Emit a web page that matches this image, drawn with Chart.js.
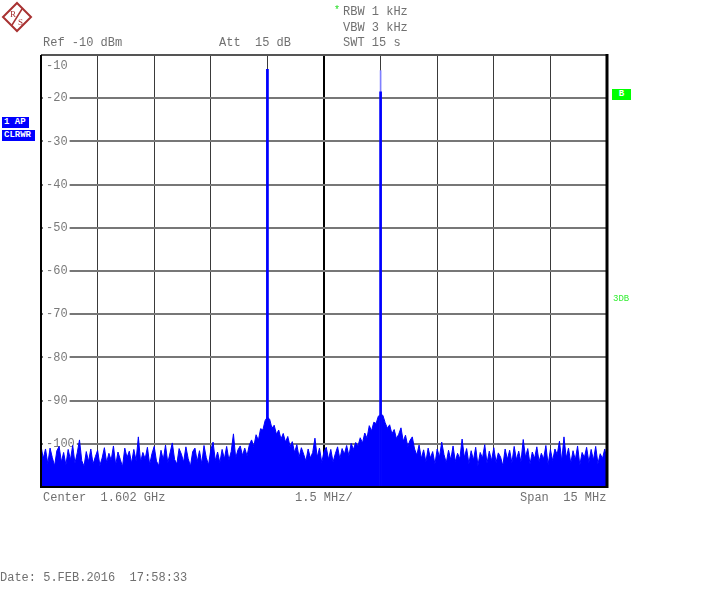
<!DOCTYPE html>
<html>
<head>
<meta charset="utf-8">
<script src="https://cdn.jsdelivr.net/npm/chart.js@4.4.1/dist/chart.umd.min.js"></script>
<style>
  body { margin: 0; background: #fff; }
  #wrap { position: relative; width: 723px; height: 600px; overflow: hidden; font-family: "Liberation Mono", "DejaVu Sans Mono", monospace; }
  #wrap canvas { position: absolute; left: 0; top: 0; }
  .txt { position: absolute; font-size: 12px; line-height: 12px; height: 12px; color: #707070; white-space: pre; }
  .tag { position: absolute; background: #0000ff; color: #fff; font-size: 9px; font-weight: bold; line-height: 11px; height: 11px; padding: 0 2px; white-space: pre; }
</style>
</head>
<body>
<div id="wrap">
  <canvas id="spectrum" width="723" height="600"></canvas>

  <svg style="position:absolute;left:1px;top:1px" width="32" height="32" viewBox="0 0 32 32">
    <polygon points="16,2 30,16 16,30 2,16" fill="none" stroke="#a83232" stroke-width="2"/>
    <line x1="21" y1="8" x2="11" y2="24" stroke="#a83232" stroke-width="1.5"/>
    <text x="9" y="16" font-size="9" font-family="Liberation Serif, serif" fill="#a83232">R</text>
    <text x="17" y="24" font-size="9" font-family="Liberation Serif, serif" fill="#a83232">S</text>
  </svg>

  <div class="txt" style="left:334px;top:5px;color:#22dd22;font-size:10px">*</div>
  <div class="txt" style="left:343px;top:6px">RBW 1 kHz</div>
  <div class="txt" style="left:343px;top:22px">VBW 3 kHz</div>
  <div class="txt" style="left:43px;top:37px">Ref -10 dBm</div>
  <div class="txt" style="left:219px;top:37px">Att  15 dB</div>
  <div class="txt" style="left:343px;top:37px">SWT 15 s</div>

  <div class="tag" style="left:2px;top:117px;width:23px">1 AP</div>
  <div class="tag" style="left:2px;top:130px;width:29px">CLRWR</div>
  <div class="tag" style="left:612px;top:89px;width:15px;background:#00ff00;text-align:center">B</div>
  <div class="txt" style="left:613px;top:293px;font-size:9px;color:#33ee33">3DB</div>

  <div class="txt" style="left:43px;top:492px">Center  1.602 GHz</div>
  <div class="txt" style="left:295px;top:492px">1.5 MHz/</div>
  <div class="txt" style="left:520px;top:492px">Span  15 MHz</div>
  <div class="txt" style="left:0px;top:572px">Date: 5.FEB.2016  17:58:33</div>
</div>

<script>
// sweep: 251 points across 15 MHz span, centre 1.602 GHz
const levelLabels = [-10, -20, -30, -40, -50, -60, -70, -80, -90, -100];

// noise floor / skirts of the trace (dBm)
const levels = [
  -100.5, -103.4, -101.2, -104.6, -101.0, -103.2, -105.1, -101.6, -100.6, -104.2,
  -102.0, -104.9, -101.3, -103.7, -100.4, -104.5, -102.1, -99.1, -103.9, -105.2,
  -101.8, -104.1, -101.2, -104.7, -103.0, -101.5, -105.0, -103.3, -100.9, -104.3,
  -102.2, -103.8, -100.5, -104.9, -101.9, -103.6, -105.3, -101.0, -103.2, -101.7,
  -104.5, -101.3, -103.9, -98.4, -104.2, -102.0, -103.5, -100.8, -104.8, -102.3,
  -100.6, -104.0, -105.1, -101.5, -103.7, -100.3, -104.4, -102.1, -99.8, -103.6,
  -104.7, -101.1, -102.4, -104.2, -100.7, -103.4, -105.2, -101.8, -101.0, -104.1,
  -101.6, -104.6, -100.4, -103.2, -104.9, -101.4, -99.6, -103.9, -101.9, -104.4,
  -101.3, -103.5, -100.6, -103.8, -101.8, -97.7, -103.3, -101.4, -100.5, -102.7,
  -101.0, -102.8, -100.3, -99.1, -100.6, -97.9, -99.2, -96.5, -96.8, -94.6,
  -93.8,
  -94.3, -96.4, -95.7, -97.8, -96.8, -98.9, -97.6, -99.6, -98.3,
  -100.6, -99.5, -102.0, -100.2, -103.1, -100.9, -102.4, -104.0, -101.2, -103.3,
  -102.0, -98.7, -103.1, -101.0, -104.3, -101.8, -100.8, -103.6, -101.3, -104.2,
  -102.3, -100.7, -103.5, -101.1, -102.4, -100.4, -102.8, -99.9, -101.3, -99.7,
  -100.5, -98.6, -99.8, -97.5, -98.7, -95.8, -97.0, -95.0, -95.3, -93.6,
  -93.2,
  -93.4, -95.1, -96.4, -95.6, -97.7, -96.7, -98.8, -97.8, -96.3,
  -99.4, -98.0, -100.6, -99.2, -98.4, -101.2, -102.6, -100.3, -103.4, -101.4,
  -104.2, -101.0, -103.3, -101.8, -104.7, -101.2, -103.1, -99.6, -102.5, -104.4,
  -101.5, -103.7, -100.5, -104.1, -102.2, -103.5, -98.9, -103.2, -101.1, -104.6,
  -101.6, -103.8, -100.8, -105.0, -102.0, -103.3, -100.2, -104.5, -101.7, -103.9,
  -100.9, -104.3, -102.1, -103.1, -105.1, -101.2, -103.6, -101.5, -104.4, -100.6,
  -103.7, -101.7, -104.2, -99.0, -103.1, -101.1, -104.7, -101.9, -103.4, -100.7,
  -104.1, -102.2, -103.5, -100.4, -104.8, -101.3, -103.9, -101.2, -102.5, -99.4,
  -104.0, -98.4, -103.3, -101.0, -104.5, -101.6, -103.7, -100.5, -104.9, -102.0,
  -103.2, -100.8, -104.3, -101.3, -103.8, -100.6, -104.6, -102.3, -103.4, -101.2, -103.7
];

// the two carriers: sweep point, held maximum and steady level (dBm)
const carrierIndex = [100, 150];
const carrierHold = [-13.3, -13.6];
const carrierLevel = [-13.3, -18.5];

const lastIndex = levels.length - 1;
const centreIndex = lastIndex / 2;
const floorLevel = -110;

// level labels inside the grid and the heavy frame
const plotDecor = {
    id: 'plotDecor',
    beforeDatasetsDraw(chart) {
        const { ctx, chartArea, scales: { y } } = chart;
        ctx.save();
        ctx.font = '12px "Liberation Mono", monospace';
        ctx.textBaseline = 'middle';
        levelLabels.forEach(v => {
            let py = y.getPixelForValue(v);
            if (v === y.max) py += 11; // top label sits under the frame
            const txt = String(v);
            const w = ctx.measureText(txt).width;
            ctx.fillStyle = '#fff';
            ctx.fillRect(chartArea.left + 2, py - 5, w + 5, 10);
            ctx.fillStyle = '#7a7a7a';
            ctx.fillText(txt, chartArea.left + 5, py);
        });
        ctx.restore();
    },
    afterDatasetsDraw(chart) {
        const { ctx, chartArea: a } = chart;
        ctx.save();
        ctx.strokeStyle = '#555';
        ctx.lineWidth = 2;
        ctx.beginPath();
        ctx.moveTo(a.left, a.top);
        ctx.lineTo(a.right, a.top);
        ctx.stroke();
        ctx.strokeStyle = '#000';
        ctx.beginPath();
        ctx.moveTo(a.left, a.top);
        ctx.lineTo(a.left, a.bottom);
        ctx.lineTo(a.right, a.bottom);
        ctx.stroke();
        ctx.lineWidth = 3;
        ctx.beginPath();
        ctx.moveTo(a.right, a.top - 1);
        ctx.lineTo(a.right, a.bottom + 1);
        ctx.stroke();
        ctx.restore();
    }
};

new Chart(document.getElementById('spectrum'), {
    data: {
        datasets: [{
            type: 'line',
            data: levels.map((v, i) => ({ x: i, y: v })),
            borderColor: '#0000ff',
            backgroundColor: '#0000ff',
            borderWidth: 1,
            fill: 'start',
            pointRadius: 0,
            tension: 0,
            order: 3
        }, {
            type: 'bar',
            data: carrierIndex.map((x, i) => ({ x: x, y: [floorLevel, carrierHold[i]] })),
            backgroundColor: ['#0000ff', '#8080ff'],
            barThickness: 1,
            grouped: false,
            order: 2
        }, {
            type: 'bar',
            data: carrierIndex.map((x, i) => ({ x: x, y: [floorLevel, carrierLevel[i]] })),
            backgroundColor: '#0000ff',
            barThickness: 2,
            grouped: false,
            order: 1
        }]
    },
    options: {
        responsive: false,
        animation: false,
        layout: { padding: { left: 41, top: 55, right: 116, bottom: 113 } },
        plugins: { legend: { display: false }, tooltip: { enabled: false } },
        scales: {
            x: {
                type: 'linear',
                min: 0,
                max: lastIndex,
                offset: false,
                ticks: { display: false, stepSize: lastIndex / 10 },
                border: { display: false },
                grid: {
                    offset: false,
                    drawTicks: false,
                    color: c => c.tick.value === centreIndex ? '#000' : '#3a3a3a',
                    lineWidth: c => c.tick.value === centreIndex ? 2 : 1
                }
            },
            y: {
                min: floorLevel,
                max: -10,
                ticks: { display: false, stepSize: 10 },
                border: { display: false },
                grid: { drawTicks: false, color: '#777', lineWidth: 2 }
            }
        }
    },
    plugins: [plotDecor]
});
</script>
</body>
</html>
